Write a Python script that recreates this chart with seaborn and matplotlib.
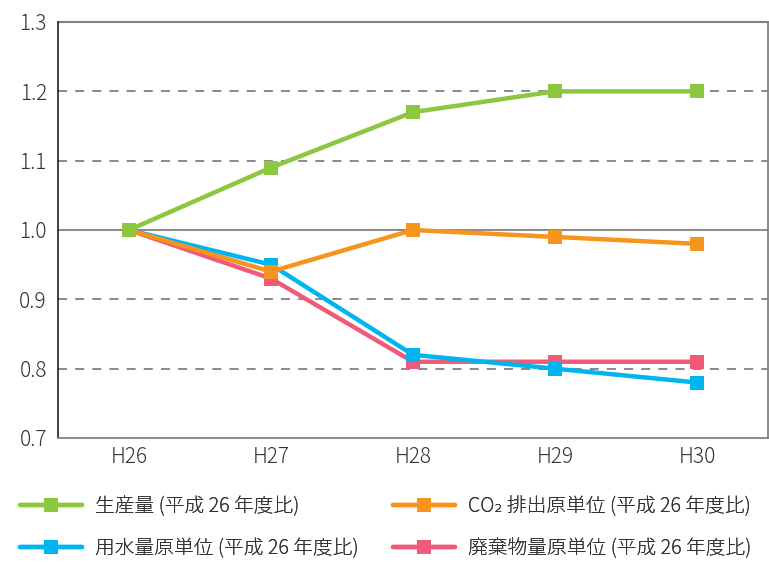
import matplotlib
matplotlib.use("Agg")
import matplotlib.pyplot as plt
import seaborn as sns
import pandas as pd
from matplotlib.lines import Line2D

years = ["H26", "H27", "H28", "H29", "H30"]
production = [1.00, 1.09, 1.17, 1.20, 1.20]
co2 = [1.00, 0.94, 1.00, 0.99, 0.98]
water = [1.00, 0.95, 0.82, 0.80, 0.78]
waste = [1.00, 0.93, 0.81, 0.81, 0.81]

names = ["生産量 (平成 26 年度比)", "CO₂ 排出原単位 (平成 26 年度比)",
         "用水量原単位 (平成 26 年度比)", "廃棄物量原単位 (平成 26 年度比)"]
colors = {names[0]: "#8DC63F", names[1]: "#F7941D",
          names[2]: "#00B5EF", names[3]: "#EF5A78"}
series = {names[0]: production, names[1]: co2, names[2]: water, names[3]: waste}

sns.set_theme(style="white")
plt.rcParams["font.family"] = ["Noto Sans CJK JP", "DejaVu Sans"]
plt.rcParams["font.weight"] = "light"

rows = []
for n, vals in series.items():
    for i, (y, v) in enumerate(zip(years, vals)):
        rows.append({"year": y, "idx": i, "value": v, "series": n})
df = pd.DataFrame(rows)

fig = plt.figure(figsize=(7.69, 5.63), dpi=100)
ax = fig.add_axes([58/769, 1-438/563, 710/769, 416/563])

draw_order = [names[3], names[2], names[1], names[0]]
for k, n in enumerate(draw_order):
    sub = df[df["series"] == n]
    sns.lineplot(data=sub, x="idx", y="value", ax=ax, color=colors[n],
                 linewidth=3.2, marker="s", markersize=9.5, markeredgewidth=0,
                 zorder=3 + k, legend=False)

ax.set_xlim(-0.5, 4.5)
ax.set_ylim(0.7, 1.3)
ax.set_xticks(range(len(years)))
ax.set_xticklabels(years)
ax.set_yticks([0.7, 0.8, 0.9, 1.0, 1.1, 1.2, 1.3])
ax.set_yticklabels(["0.7", "0.8", "0.9", "1.0", "1.1", "1.2", "1.3"])
ax.set_xlabel("")
ax.set_ylabel("")

for y in [0.8, 0.9, 1.1, 1.2]:
    ax.axhline(y, color="#808080", linewidth=1.3, linestyle=(0, (5, 4.5)), zorder=1)
ax.axhline(1.0, color="#808080", linewidth=1.3, zorder=1)
ax.axhline(1.3, color="#808080", linewidth=1.5, zorder=1, clip_on=False)

ax.spines["top"].set_visible(False)
ax.spines["left"].set_color("#222222")
ax.spines["left"].set_linewidth(1.2)
ax.spines["right"].set_color("#808080")
ax.spines["right"].set_linewidth(1.3)
ax.spines["bottom"].set_color("#808080")
ax.spines["bottom"].set_linewidth(1.3)

ax.tick_params(axis="x", direction="in", length=7, width=1, color="#444444",
               labelsize=15, labelcolor="#333333", pad=6)
ax.tick_params(axis="y", length=0, labelsize=15, labelcolor="#333333", pad=8)

def make_handle(n):
    return Line2D([0], [0], color=colors[n], linewidth=3.2, marker="s",
                  markersize=9.5, markeredgewidth=0)

col1 = [names[0], names[2]]
col2 = [names[1], names[3]]
for col, x0 in [(col1, 20/769), (col2, 393/769)]:
    leg = fig.legend([make_handle(n) for n in col], col, loc="center left",
                     bbox_to_anchor=(x0, 1-527.5/563), frameon=False,
                     fontsize=14.2, handlelength=3.15, handletextpad=0.65,
                     labelspacing=1.05, borderpad=0, borderaxespad=0,
                     labelcolor="#333333")
    fig.add_artist(leg)

fig.savefig("out.png", dpi=100)
